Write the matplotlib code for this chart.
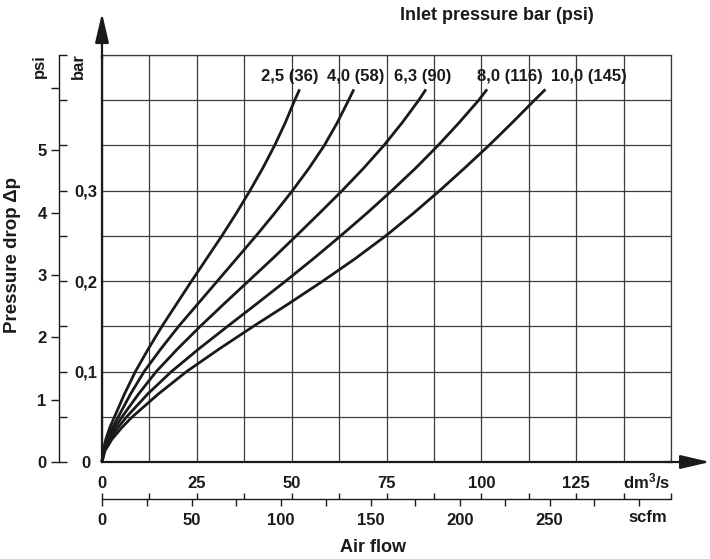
import numpy as np
import matplotlib.pyplot as plt

plt.rcParams['font.family'] = ['Liberation Sans', 'DejaVu Sans']
plt.rcParams['font.weight'] = 'bold'
plt.rcParams['mathtext.fontset'] = 'custom'
plt.rcParams['mathtext.bf'] = 'Liberation Sans:bold'
plt.rcParams['mathtext.default'] = 'bf'

INK = '#1a1a1a'
GRID = '#3a3a3a'

# pressure drop (bar) at which the curves were read
dp_bar = [0, 0.0125, 0.025, 0.0375, 0.05, 0.075, 0.1, 0.125, 0.15, 0.175, 0.2,
          0.225, 0.25, 0.275, 0.3, 0.325, 0.35, 0.375, 0.4, 0.412]

# air flow (dm3/s) per inlet pressure
flow_2_5 = [0, 0.3, 1.0, 2.0, 3.3, 5.9, 8.8, 12.2, 15.8, 19.7, 23.6,
            27.6, 31.6, 35.4, 39.0, 42.4, 45.5, 48.3, 50.8, 52.1]
flow_4_0 = [0, 0.4, 1.3, 2.7, 4.3, 7.5, 11.1, 15.5, 20.2, 25.3, 30.4,
            35.5, 40.6, 45.5, 50.2, 54.6, 58.6, 62.0, 65.0, 66.4]
flow_6_3 = [0, 0.5, 1.7, 3.3, 5.3, 9.6, 14.3, 19.9, 25.9, 32.2, 38.6,
            45.0, 51.2, 57.3, 63.3, 69.0, 74.3, 79.1, 83.5, 85.4]
flow_8_0 = [0, 0.6, 2.1, 4.1, 6.5, 12.0, 18.3, 25.5, 33.1, 40.8, 48.4,
            55.8, 62.9, 69.8, 76.4, 82.7, 88.6, 94.1, 99.3, 101.5]
flow_10_0 = [0, 0.8, 2.6, 5.1, 8.0, 14.8, 22.3, 30.9, 39.9, 49.2, 58.2,
             66.8, 74.8, 82.1, 89.0, 95.6, 102.0, 108.1, 114.0, 116.9]

curves = [flow_2_5, flow_4_0, flow_6_3, flow_8_0, flow_10_0]
curve_labels = ['2,5 (36)', '4,0 (58)', '6,3 (90)', '8,0 (116)', '10,0 (145)']
label_x = [49.5, 66.8, 84.5, 107.6, 128.3]

BAR_PER_PSI = 0.0689476
SCFM_PER_DM3S = 2.11888

W, H = 710, 559


def fx(px):
    return px / W


def fy(py):
    return 1 - py / H


fig = plt.figure(figsize=(W / 100, H / 100), dpi=100)

# main grid
ax = fig.add_axes([fx(102), fy(462), fx(671) - fx(102), fy(55) - fy(462)])
ax.set_xlim(0, 150)
ax.set_ylim(0, 0.45)
xt = np.arange(0, 150.1, 12.5)
ax.set_xticks(xt)
ax.set_xticklabels([f'{v:g}' if v % 25 == 0 and v < 150 else '' for v in xt])
ax.set_yticks(np.arange(0, 0.451, 0.05))
ax.grid(True, color=GRID, lw=0.9)
ax.tick_params(axis='x', length=0, pad=10, labelsize=12, labelcolor=INK)
ax.tick_params(axis='y', length=0, labelleft=False)
for s in ['top', 'right']:
    ax.spines[s].set_color(GRID)
    ax.spines[s].set_linewidth(0.9)
for s in ['left', 'bottom']:
    ax.spines[s].set_color(INK)
    ax.spines[s].set_linewidth(1.6)

for flow in curves:
    ax.plot(flow, dp_bar, color=INK, lw=2.0, clip_on=False, zorder=3,
            solid_joinstyle='round', solid_capstyle='butt')

for lab, x in zip(curve_labels, label_x):
    ax.text(x, 0.4265, lab, ha='center', va='center', fontsize=12, color=INK)

arrow = dict(arrowstyle='-|>,head_length=1.8,head_width=0.42', color=INK, lw=1.6,
             mutation_scale=10, shrinkA=0, shrinkB=0)
ax.annotate('', xy=(0, 1.103), xytext=(0, 0.99), xycoords='axes fraction',
            arrowprops=arrow, annotation_clip=False)
ax.annotate('', xy=(1.0685, 0), xytext=(0.99, 0), xycoords='axes fraction',
            arrowprops=arrow, annotation_clip=False)

# left scale: psi on the left, bar on the right of one line
ax_psi = fig.add_axes([fx(59), fy(462), 0.0001, fy(55) - fy(462)])
ax_psi.patch.set_visible(False)
ax_psi.set_ylim(0, 0.45 / BAR_PER_PSI)
ax_psi.set_yticks(range(7))
ax_psi.set_yticklabels(['0', '1', '2', '3', '4', '5', ''])
ax_psi.set_xticks([])
for s in ['top', 'right', 'bottom']:
    ax_psi.spines[s].set_visible(False)
ax_psi.spines['left'].set_color(INK)
ax_psi.spines['left'].set_linewidth(1.0)
ax_psi.tick_params(axis='y', direction='out', length=6, width=1.0, pad=3,
                   labelsize=12, color=INK, labelcolor=INK)

ax_bar = ax_psi.twinx()
ax_bar.set_ylim(0, 0.45)
bt = np.arange(0, 0.451, 0.05)
ax_bar.set_yticks(bt)
ax_bar.set_yticklabels(['0', '', '0,1', '', '0,2', '', '0,3', '', '', ''])
for s in ax_bar.spines.values():
    s.set_visible(False)
ax_bar.tick_params(axis='y', direction='out', length=6, width=1.0, pad=13,
                   labelsize=12, color=INK, labelcolor=INK)
for t in ax_bar.get_yticklabels():
    t.set_horizontalalignment('center')

fig.text(fx(39), fy(66), 'psi', rotation=90, ha='center', va='center', fontsize=12, color=INK)
fig.text(fx(78), fy(66), 'bar', rotation=90, ha='center', va='center', fontsize=12, color=INK)

# bottom scale: dm3/s ticks above, scfm below
ax_q = fig.add_axes([fx(102), fy(499), fx(671) - fx(102), 0.0001])
ax_q.patch.set_visible(False)
ax_q.set_xlim(0, 150)
ax_q.set_xticks(xt)
ax_q.set_xticklabels([])
ax_q.set_yticks([])
for s in ['top', 'right', 'left']:
    ax_q.spines[s].set_visible(False)
ax_q.spines['bottom'].set_color(INK)
ax_q.spines['bottom'].set_linewidth(1.0)
ax_q.tick_params(axis='x', direction='in', length=4.5, width=1.0, color=INK)

ax_s = fig.add_axes([fx(102), fy(499), fx(671) - fx(102), 0.0001])
ax_s.patch.set_visible(False)
ax_s.set_xlim(0, 150 * SCFM_PER_DM3S)
st = np.arange(0, 301, 25)
ax_s.set_xticks(st)
ax_s.set_xticklabels([f'{v}' if v % 50 == 0 and v < 300 else '' for v in st])
ax_s.set_yticks([])
for s in ax_s.spines.values():
    s.set_visible(False)
ax_s.tick_params(axis='x', direction='out', length=5, width=1.0, pad=5,
                 labelsize=12, color=INK, labelcolor=INK)

fig.text(fx(647), fy(481), r'dm$^{3}$/s', ha='center', va='center', fontsize=12, color=INK)
fig.text(fx(648), fy(518), 'scfm', ha='center', va='center', fontsize=12, color=INK)
fig.text(fx(373), fy(547), 'Air flow', ha='center', va='center', fontsize=13, color=INK)
fig.text(fx(13), fy(255), 'Pressure drop Δp', rotation=90, ha='center', va='center',
         fontsize=13.5, color=INK)
fig.text(fx(497), fy(15), 'Inlet pressure bar (psi)', ha='center', va='center',
         fontsize=13, color=INK)

fig.savefig('out.png', dpi=100)
